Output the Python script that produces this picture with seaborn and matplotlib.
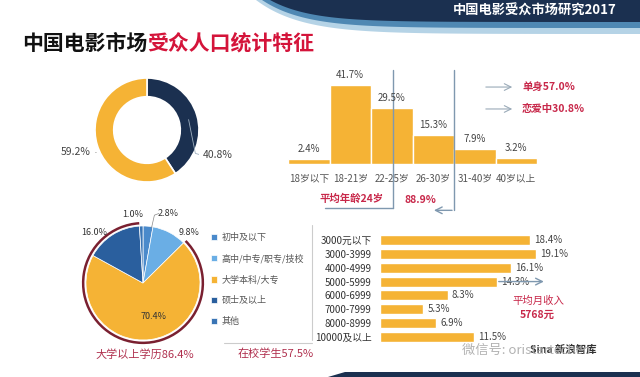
import numpy as np
import matplotlib.pyplot as plt
import seaborn as sns
from matplotlib.patches import Arc, Polygon
from matplotlib.lines import Line2D

# data
gender_share = [40.8, 59.2]
age_groups = ['18岁以下', '18-21岁', '22-25岁', '26-30岁', '31-40岁', '40岁以上']
age_share = [2.4, 41.7, 29.5, 15.3, 7.9, 3.2]
relation_labels = ['单身', '恋爱中']
relation_share = [57.0, 30.8]
avg_age = 24
age_bracket_share = 88.9
edu_labels = ['初中及以下', '高中/中专/职专/技校', '大学本科/大专', '硕士及以上', '其他']
edu_share = [2.8, 9.8, 70.4, 16.0, 1.0]
college_share = 86.4
student_share = 57.5
income_groups = ['3000元以下', '3000-3999', '4000-4999', '5000-5999',
                 '6000-6999', '7000-7999', '8000-8999', '10000及以上']
income_share = [18.4, 19.1, 16.1, 14.3, 8.3, 5.3, 6.9, 11.5]
avg_income = 5768

GOLD = '#F5B335'
NAVY = '#1B3050'
RED = '#C8284A'
PINK = '#B0304E'
LINE = '#7F98AF'
EDU_COLORS = ['#4A8ACB', '#6AAEE5', GOLD, '#2A5F9E', '#3A75B5']

sns.set_theme(style='white')
plt.rcParams['font.family'] = ['Noto Sans CJK SC', 'DejaVu Sans']

W, H = 640, 377
fig = plt.figure(figsize=(6.4, 3.77), dpi=100)
fig.patch.set_facecolor('white')


def fx(x):
    return x / W


def fy(y):
    return 1 - y / H


def rect(x0, y0, x1, y1):
    return [x0 / W, 1 - y1 / H, (x1 - x0) / W, (y1 - y0) / H]


def fig_line(xs, ys, **kw):
    fig.add_artist(Line2D([fx(x) for x in xs], [fy(y) for y in ys],
                          transform=fig.transFigure, **kw))


# header banner (decoration)
xs = np.linspace(250, 640, 120)
for x0, depth, k, col in [(256, 34, 45, '#B5D3E6'), (262, 28, 42, '#4F88B3'),
                          (270, 22, 40, NAVY)]:
    sel = xs[xs >= x0]
    ys = depth * (1 - np.exp(-(sel - x0) / k))
    pts = [(fx(x0), fy(0))] + [(fx(a), fy(b)) for a, b in zip(sel, ys)] + [(1, 1)]
    fig.add_artist(Polygon(pts, closed=True, transform=fig.transFigure,
                           facecolor=col, edgecolor='none'))
fig.text(fx(453), fy(11), '中国电影受众市场研究2017', color='white',
         fontsize=9.5, fontweight='bold', va='center', ha='left')
fig.add_artist(Polygon([(fx(328), fy(377)), (fx(345), fy(372)), (1, fy(372)), (1, 0)],
                       closed=True, transform=fig.transFigure,
                       facecolor=NAVY, edgecolor='none'))

# title
t1 = fig.text(fx(22), fy(44), '中国电影市场', fontsize=15, fontweight='bold',
              color='#111111', va='center', ha='left')
fig.canvas.draw()
bb = t1.get_window_extent(fig.canvas.get_renderer())
fig.text(bb.x1 / fig.bbox.width, fy(44), '受众人口统计特征', fontsize=15,
         fontweight='bold', color='#D4143A', va='center', ha='left')

# gender donut
ax1 = fig.add_axes(rect(95, 78, 199, 182))
ax1.pie(gender_share, colors=[NAVY, GOLD], startangle=90, counterclock=False,
        wedgeprops=dict(width=0.36, edgecolor='white', linewidth=1.2))
ax1.set_xlim(-1, 1)
ax1.set_ylim(-1, 1)
ax1.set_aspect('equal')
ax1.axis('off')
ax1.text(1.37, -0.48, f'{gender_share[0]}%', ha='center', va='center',
         fontsize=7.5, color='#444444')
ax1.text(-1.38, -0.42, f'{gender_share[1]}%', ha='center', va='center',
         fontsize=7.5, color='#444444')
ax1.plot([0.8, 0.93, 1.0], [0.2, -0.45, -0.47], color='#9fb0c0', lw=0.6)
ax1.plot([-1.08, -0.98], [-0.42, -0.42], color='#bbbbbb', lw=0.6)

# age distribution
ax2 = fig.add_axes(rect(288, 60, 537, 164))
ax2.patch.set_alpha(0)
sns.barplot(x=age_groups, y=age_share, color=GOLD, width=1.0, saturation=1, ax=ax2)
ax2.set_xlim(-0.5, 5.5)
ax2.set_ylim(0, 55)
ax2.set_xlabel('')
ax2.set_ylabel('')
ax2.set_yticks([])
sns.despine(ax=ax2, left=True, bottom=True)
ax2.tick_params(axis='x', length=0, pad=7, labelsize=7, labelcolor='#555555')
for i, v in enumerate(age_share):
    ax2.text(i, v + 5.3, f'{v}%', ha='center', va='center', fontsize=7, color='#444444')
ax2.plot([2.03, 2.03], [49.7, -23.3], color=LINE, lw=1, clip_on=False)
ax2.plot([0.39, 2.03], [-23.3, -23.3], color=LINE, lw=1, clip_on=False)
ax2.plot([3.5, 3.5], [49.7, -24.5], color=LINE, lw=1, clip_on=False)
ax2.annotate('', xy=(2.95, -24.5), xytext=(3.52, -24.5), annotation_clip=False,
             arrowprops=dict(arrowstyle='->', color=LINE, lw=1))
ax2.text(1.04, -18.5, f'平均年龄{avg_age}岁', ha='center', va='center',
         fontsize=7.5, color=RED, fontweight='bold')
ax2.text(2.68, -19, f'{age_bracket_share}%', ha='center', va='center',
         fontsize=7.5, color=RED, fontweight='bold')
for lab, v, yy in zip(relation_labels, relation_share, [40.7, 29.1]):
    ax2.annotate('', xy=(4.97, yy), xytext=(4.2, yy), annotation_clip=False,
                 arrowprops=dict(arrowstyle='->', color='#9AAAB8', lw=0.8))
    ax2.text(5.14, yy, f'{lab}{v}%', ha='left', va='center', fontsize=7.5,
             color=RED, fontweight='bold')

# education pie
ax3 = fig.add_axes(rect(86, 226, 200, 340))
wedges, _ = ax3.pie(edu_share, colors=EDU_COLORS, startangle=90, counterclock=False,
                    wedgeprops=dict(edgecolor='white', linewidth=0.5))
ax3.set_xlim(-1, 1)
ax3.set_ylim(-1, 1)
ax3.set_aspect('equal')
ax3.axis('off')
total = sum(edu_share)
theta1 = 90 + 360 * edu_share[4] / total
theta2 = theta1 + 360 * (edu_share[3] + edu_share[2]) / total
ax3.add_patch(Arc((0, 0), 2.1, 2.1, theta1=theta1, theta2=theta2,
                  color='#7A2030', lw=1.8, clip_on=False))
for txt, (x, y) in zip([f'{v}%' for v in edu_share],
                       [(0.44, 1.22), (0.8, 0.89), (0.18, -0.58),
                        (-0.85, 0.89), (-0.18, 1.2)]):
    ax3.text(x, y, txt, ha='center', va='center', fontsize=6.5, color='#333333')
ax3.plot([0.15, 0.2, 0.28], [0.97, 1.19, 1.22], color='#888888', lw=0.5, clip_on=False)
ax3.legend(wedges, edu_labels, loc='upper left', bbox_to_anchor=(fx(211), fy(233)),
           bbox_transform=fig.transFigure, frameon=False, fontsize=6.5,
           labelspacing=1.3, handlelength=0.7, handleheight=0.7,
           handletextpad=0.5, borderpad=0, borderaxespad=0, labelcolor='#555555')
fig.text(fx(145), fy(354), f'大学以上学历{college_share}%', ha='center', va='center',
         fontsize=8, color=PINK)
fig.text(fx(276), fy(354), f'在校学生{student_share}%', ha='center', va='center',
         fontsize=8, color=PINK)
fig_line([312, 312], [225, 340], color='#cccccc', lw=0.8)
fig_line([224, 312], [343, 343], color='#cccccc', lw=0.8)

# income bars
ax4 = fig.add_axes(rect(380, 233, 576, 344))
ax4.patch.set_alpha(0)
sns.barplot(x=income_share, y=income_groups, orient='h', color=GOLD, width=0.72,
            saturation=1, ax=ax4)
ax4.set_xlim(0, 24)
ax4.set_xlabel('')
ax4.set_ylabel('')
ax4.set_xticks([])
sns.despine(ax=ax4, left=True, bottom=True)
ax4.tick_params(axis='y', length=0, pad=6, labelsize=7, labelcolor='#333333')
for i, v in enumerate(income_share):
    ax4.text(v + 0.5, i, f'{v}%', ha='left', va='center', fontsize=7, color='#444444')
ax4.annotate('', xy=(20.4, 3), xytext=(14.2, 3), annotation_clip=False,
             arrowprops=dict(arrowstyle='->', color=LINE, lw=1))
ax4.text(19.4, 4.4, '平均月收入', ha='center', va='center', fontsize=7.5, color=RED)
ax4.text(19.3, 5.4, f'{avg_income}元', ha='center', va='center', fontsize=7.5,
         color=RED, fontweight='bold')

# watermark
fig.text(fx(530), fy(350), 'Sina 新浪智库', fontsize=7.5, fontweight='bold',
         color='#333333', va='center', ha='left')
fig.text(fx(462), fy(350), '微信号: oristartechcn', fontsize=9.5, color='#aaaaaa',
         va='center', ha='left', alpha=0.9)

fig.savefig('out.png', dpi=100)
